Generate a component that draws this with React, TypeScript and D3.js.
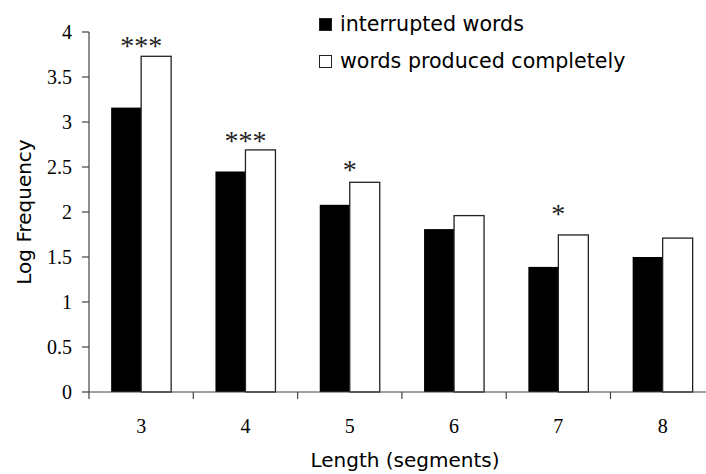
import React from "react";
import * as d3 from "d3";

const categories = ["3", "4", "5", "6", "7", "8"];
const interrupted = [3.16, 2.45, 2.08, 1.81, 1.39, 1.5];
const complete = [3.73, 2.69, 2.33, 1.96, 1.745, 1.71];
const significance = ["***", "***", "*", "", "*", ""];
const sigLevel = [3.74, 2.69, 2.37, 0, 1.88, 0];
const yTicks = [0, 0.5, 1, 1.5, 2, 2.5, 3, 3.5, 4];
const seriesNames = ["interrupted words", "words produced completely"];

const W = 706;
const H = 474;
const x0 = 89;
const step = 104.3;
const yTop = 32;
const yBottom = 392;
const barW = 30;

export default function App() {
  const x = d3
    .scaleBand<string>()
    .domain(categories)
    .range([x0, x0 + step * categories.length])
    .padding(0);
  const y = d3.scaleLinear().domain([0, 4]).range([yBottom, yTop]);
  const serif = "'Liberation Serif', 'Times New Roman', serif";
  const sans = "'DejaVu Sans', Verdana, sans-serif";
  const axisColor = "#444";
  const boundaries = d3.range(categories.length + 1).map((i) => x0 + i * x.bandwidth());

  return (
    <svg
      width={W}
      height={H}
      style={{ position: "absolute", left: 0, top: 0, background: "#fff" }}
    >
      {/* bars */}
      {categories.map((c, i) => {
        const cx = (x(c) as number) + x.bandwidth() / 2;
        return (
          <g key={c}>
            <rect
              x={cx - barW}
              y={y(interrupted[i])}
              width={barW}
              height={yBottom - y(interrupted[i])}
              fill="#000"
            />
            <rect
              x={cx}
              y={y(complete[i])}
              width={barW}
              height={yBottom - y(complete[i])}
              fill="#fff"
              stroke="#222"
              strokeWidth={1.3}
            />
            {significance[i] && (
              <text
                x={cx}
                y={y(sigLevel[i])}
                textAnchor="middle"
                fontFamily={serif}
                fontSize={28}
                fill="#222"
              >
                {significance[i]}
              </text>
            )}
          </g>
        );
      })}

      {/* y axis */}
      <line x1={x0} x2={x0} y1={yTop} y2={yBottom} stroke={axisColor} strokeWidth={1.2} />
      {yTicks.map((t) => (
        <g key={t}>
          <line x1={x0 - 7} x2={x0} y1={y(t)} y2={y(t)} stroke={axisColor} strokeWidth={1.2} />
          <text
            x={72}
            y={y(t)}
            dy="0.35em"
            textAnchor="end"
            fontFamily={serif}
            fontSize={20}
            fill="#000"
          >
            {t}
          </text>
        </g>
      ))}

      {/* x axis */}
      <line
        x1={x0}
        x2={x0 + step * categories.length}
        y1={yBottom}
        y2={yBottom}
        stroke={axisColor}
        strokeWidth={1.2}
      />
      {boundaries.map((b, i) => (
        <line key={i} x1={b} x2={b} y1={yBottom} y2={yBottom + 7} stroke={axisColor} strokeWidth={1.2} />
      ))}
      {categories.map((c) => (
        <text
          key={c}
          x={(x(c) as number) + x.bandwidth() / 2}
          y={433}
          textAnchor="middle"
          fontFamily={serif}
          fontSize={20}
          fill="#000"
        >
          {c}
        </text>
      ))}

      {/* axis titles */}
      <text
        x={405}
        y={467}
        textAnchor="middle"
        fontFamily={sans}
        fontSize={20}
        fill="#000"
      >
        Length (segments)
      </text>
      <text
        transform={`translate(31, ${(yTop + yBottom) / 2}) rotate(-90)`}
        textAnchor="middle"
        fontFamily={sans}
        fontSize={20}
        fill="#000"
      >
        Log Frequency
      </text>

      {/* legend */}
      {seriesNames.map((name, i) => (
        <g key={name} transform={`translate(319, ${18 + i * 37})`}>
          <rect
            x={0.5}
            y={0.5}
            width={12}
            height={12}
            fill={i === 0 ? "#000" : "#fff"}
            stroke="#222"
            strokeWidth={1}
          />
          <text x={21} y={13} fontFamily={sans} fontSize={20.6} fill="#000">
            {name}
          </text>
        </g>
      ))}
    </svg>
  );
}
